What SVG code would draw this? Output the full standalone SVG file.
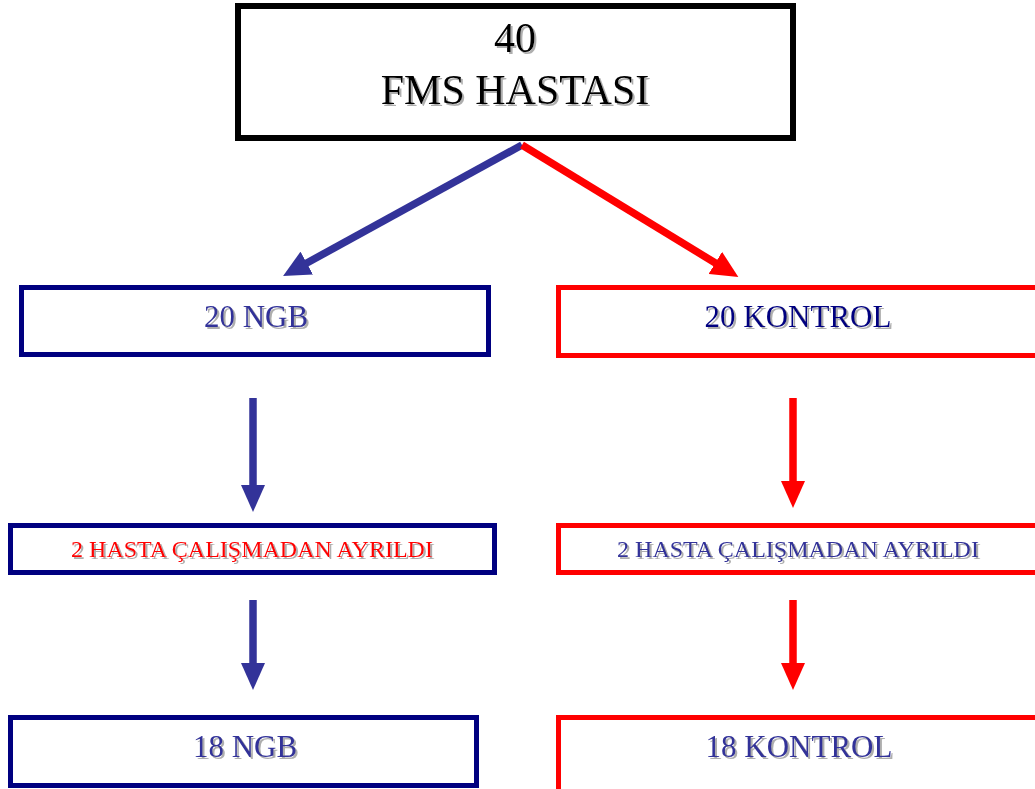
<svg xmlns="http://www.w3.org/2000/svg" width="1035" height="789" viewBox="0 0 1035 789">
<style>
  .box{fill:#ffffff;stroke-width:5}
  .navy{stroke:#000080}
  .red{stroke:#ff0000}
  .blk{stroke:#000000;stroke-width:6}
  text{font-family:"Liberation Serif","Times New Roman",serif;text-anchor:middle;filter:url(#sh)}
  .big{font-size:42px;fill:#000000}
  .mid{font-size:31px}
  .sm{font-size:24px}
  .c-blue{fill:#333399}
  .c-navy{fill:#000080}
  .c-red{fill:#ff0000}
  .ln{fill:none;stroke-width:7.5;stroke-linecap:butt}
</style>
<defs>
  <filter id="sh" x="-10%" y="-20%" width="130%" height="150%">
    <feDropShadow dx="2" dy="2" stdDeviation="0.6" flood-color="#9a9a9a" flood-opacity="0.8"/>
  </filter>
  <marker id="ahB" markerUnits="userSpaceOnUse" markerWidth="28" markerHeight="26" refX="2" refY="13" orient="auto">
    <path d="M0,0 L27,13 L0,26 z" fill="#333399"/>
  </marker>
  <marker id="ahR" markerUnits="userSpaceOnUse" markerWidth="28" markerHeight="26" refX="2" refY="13" orient="auto">
    <path d="M0,0 L27,13 L0,26 z" fill="#ff0000"/>
  </marker>
  <marker id="ahBv" markerUnits="userSpaceOnUse" markerWidth="28" markerHeight="24" refX="2" refY="12" orient="auto">
    <path d="M0,0 L27,12 L0,24 z" fill="#333399"/>
  </marker>
  <marker id="ahRv" markerUnits="userSpaceOnUse" markerWidth="28" markerHeight="24" refX="2" refY="12" orient="auto">
    <path d="M0,0 L27,12 L0,24 z" fill="#ff0000"/>
  </marker>
</defs>
<rect width="1035" height="789" fill="#ffffff"/>

<g id="connectors">
  <line class="ln" x1="522" y1="145" x2="305" y2="264" stroke="#333399" marker-end="url(#ahB)"/>
  <line class="ln" x1="522" y1="145" x2="717" y2="264" stroke="#ff0000" marker-end="url(#ahR)"/>
  <line class="ln" x1="253" y1="398" x2="253" y2="487" stroke="#333399" marker-end="url(#ahBv)"/>
  <line class="ln" x1="253" y1="600" x2="253" y2="665" stroke="#333399" marker-end="url(#ahBv)"/>
  <line class="ln" x1="793" y1="398" x2="793" y2="483" stroke="#ff0000" marker-end="url(#ahRv)"/>
  <line class="ln" x1="793" y1="600" x2="793" y2="665" stroke="#ff0000" marker-end="url(#ahRv)"/>
</g>

<g id="node-top">
  <rect class="box blk" x="238" y="6" width="555" height="132"/>
  <text class="big" x="515" y="52">40</text>
  <text class="big" x="515" y="104">FMS HASTASI</text>
</g>

<g id="node-ngb20">
  <rect class="box navy" x="21.5" y="287.5" width="467" height="67"/>
  <text class="mid c-blue" x="256" y="327">20 NGB</text>
</g>

<g id="node-kontrol20">
  <rect class="box red" x="558.5" y="287.5" width="490" height="68"/>
  <text class="mid c-navy" x="798" y="327">20 KONTROL</text>
</g>

<g id="node-ngb-left">
  <rect class="box navy" x="10.5" y="525.5" width="484" height="47"/>
  <text class="sm c-red" x="252" y="557">2 HASTA ÇALIŞMADAN AYRILDI</text>
</g>

<g id="node-kontrol-left">
  <rect class="box red" x="558.5" y="525.5" width="490" height="47"/>
  <text class="sm c-blue" x="798" y="557">2 HASTA ÇALIŞMADAN AYRILDI</text>
</g>

<g id="node-ngb18">
  <rect class="box navy" x="10.5" y="717.5" width="466" height="68"/>
  <text class="mid c-blue" x="245" y="757">18 NGB</text>
</g>

<g id="node-kontrol18">
  <rect class="box red" x="558.5" y="717.5" width="490" height="75"/>
  <text class="mid c-blue" x="799" y="757">18 KONTROL</text>
</g>
</svg>
